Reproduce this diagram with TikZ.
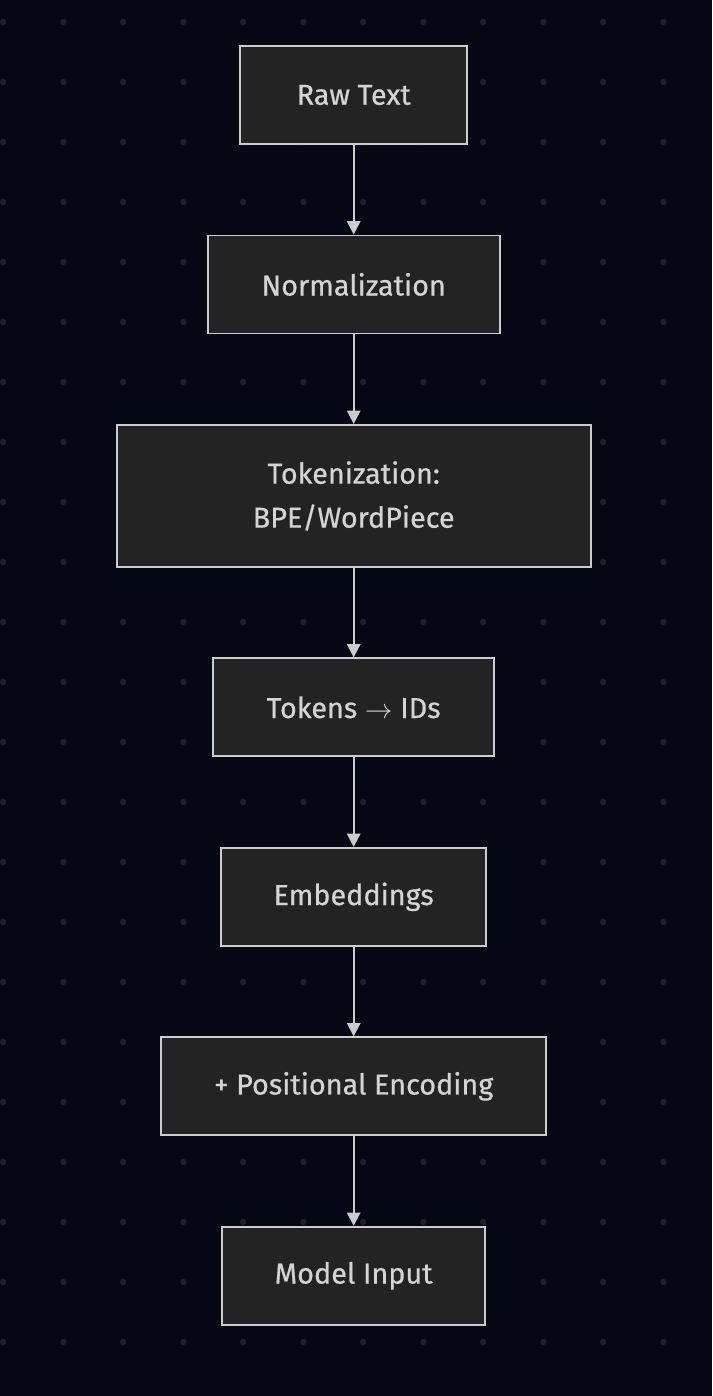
\documentclass[tikz,border=0pt]{standalone}
\usepackage{fontspec}
\setmainfont{Fira Sans}[UprightFeatures={FakeBold=0.6}]
\usetikzlibrary{arrows.meta,positioning}
\definecolor{bgcol}{HTML}{050814}
\definecolor{dotcol}{HTML}{1C1F2C}
\definecolor{boxfill}{HTML}{222322}
\definecolor{boxline}{HTML}{CCCCCC}
\definecolor{txtcol}{HTML}{D4D4D4}

\begin{document}
\begin{tikzpicture}[x=0.75pt,y=0.75pt, node distance=67.2pt,
    every node/.style={draw=boxline,fill=boxfill,rectangle,line width=1.4pt,
      text=txtcol,font=\fontsize{21.6}{33}\selectfont,minimum height=73.5pt,
      align=center},
    >={Triangle[length=10pt,width=10pt,fill=boxline]}]
    \fill [bgcol] (0,0) rectangle (712,1396);
    \foreach \i in {0,...,11} \foreach \j in {0,...,22}
    \fill [dotcol] (3+60*\i,1374-60*\j) circle (2.4pt);

    \node [minimum width=170.25pt] (raw) at (353.5,1301) {Raw Text};
    \node [below= of raw, minimum width=219pt] (norm) {Normalization};
    \node [below= of norm, minimum width=355.5pt, minimum height=106.5pt]
    (tok) {Tokenization:\\BPE/WordPiece}; \node [below= of tok, minimum
    width=210.75pt] (ids) {Tokens $\rightarrow$ IDs}; \node [below= of ids,
    minimum width=198.75pt] (emb) {Embeddings}; \node [below= of emb,
    minimum width=288.75pt] (pos) {+ Positional Encoding}; \node [below=
    of pos, minimum width=197.25pt] (input) {Model Input};

    \path [->, draw=boxline, line width=1.5pt] (raw) edge (norm) (norm)
    edge (tok) (tok) edge (ids) (ids) edge (emb) (emb) edge (pos) (pos)
    edge (input);
  \end{tikzpicture}
\end{document}
